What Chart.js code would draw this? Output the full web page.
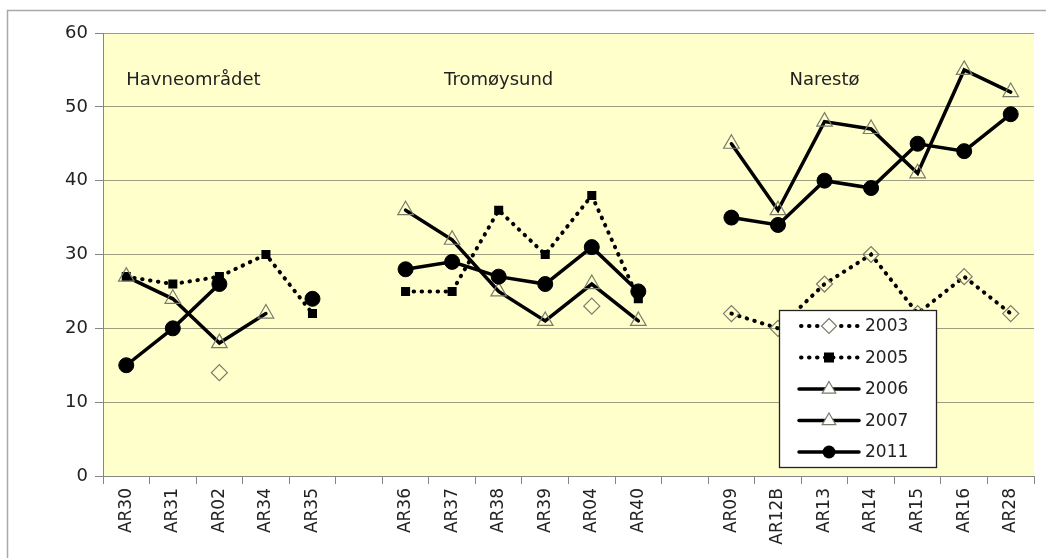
<!DOCTYPE html>
<html>
<head>
<meta charset="utf-8">
<script src="https://cdn.jsdelivr.net/npm/chart.js@4/dist/chart.umd.min.js"></script>
<style>
  html, body { margin: 0; padding: 0; background: #ffffff; }
  #wrap { width: 1046px; height: 558px; }
</style>
</head>
<body>
<div id="wrap"><canvas id="chart" width="1046" height="558"></canvas></div>
<script>
// stasjoner (tomme plasser skiller områdene)
const sites = ['AR30', 'AR31', 'AR02', 'AR34', 'AR35', ' ',
  'AR36', 'AR37', 'AR38', 'AR39', 'AR04', 'AR40', '  ',
  'AR09', 'AR12B', 'AR13', 'AR14', 'AR15', 'AR16', 'AR28'];

const v2003 = [null, null, 14, null, null, null,
  null, null, null, null, 23, null, null,
  22, 20, 26, 30, 22, 27, 22];
const v2005 = [27, 26, 27, 30, 22, null,
  25, 25, 36, 30, 38, 24, null,
  null, null, null, null, null, null, null];
const v2006 = [27, 24, 18, 22, null, null,
  36, 32, 25, 21, 26, 21, null,
  null, null, null, null, null, null, null];
const v2007 = [null, null, null, null, null, null,
  null, null, null, null, null, null, null,
  45, 36, 48, 47, 41, 55, 52];
const v2011 = [15, 20, 26, null, 24, null,
  28, 29, 27, 26, 31, 25, null,
  35, 34, 40, 39, 45, 44, 49];

const yTicks = [0, 10, 20, 30, 40, 50, 60];

// områdenavn: tekst, stasjon det ankres til, justering
const areaNames = ['Havneområdet', 'Tromøysund', 'Narestø'];
const areaAnchors = ['AR30', 'AR38', 'AR13'];
const areaAlign = ['left', 'center', 'center'];

const FONT = '"DejaVu Sans", Verdana, sans-serif';
const MARKER_EDGE = '#7b7b6b';

// --------------------------------------------------------------------------
// tegnehjelpere (for legenden)
// --------------------------------------------------------------------------
function drawMarker(ctx, style, x, y, r) {
  ctx.save();
  ctx.beginPath();
  if (style === 'circle') {
    ctx.arc(x, y, r, 0, Math.PI * 2);
    ctx.fillStyle = '#000';
    ctx.fill();
  } else if (style === 'rect') {
    ctx.fillStyle = '#000';
    ctx.fillRect(x - r, y - r, 2 * r, 2 * r);
  } else if (style === 'rectRot') {
    ctx.moveTo(x, y - r); ctx.lineTo(x + r, y); ctx.lineTo(x, y + r); ctx.lineTo(x - r, y);
    ctx.closePath();
    ctx.fillStyle = '#fff'; ctx.fill();
    ctx.strokeStyle = MARKER_EDGE; ctx.lineWidth = 1.2; ctx.stroke();
  } else if (style === 'triangle') {
    ctx.moveTo(x, y - r); ctx.lineTo(x + r * 0.9, y + r * 0.55); ctx.lineTo(x - r * 0.9, y + r * 0.55);
    ctx.closePath();
    ctx.fillStyle = '#fff'; ctx.fill();
    ctx.strokeStyle = MARKER_EDGE; ctx.lineWidth = 1.2; ctx.stroke();
  }
  ctx.restore();
}

const chartDecor = {
  id: 'chartDecor',
  beforeDraw(chart) {
    const { ctx, chartArea: a } = chart;
    ctx.save();
    ctx.fillStyle = '#ffffff';
    ctx.fillRect(0, 0, chart.width, chart.height);
    // ytre ramme
    ctx.strokeStyle = '#a9a9a9';
    ctx.lineWidth = 1.5;
    ctx.strokeRect(7.5, 10.5, 1200, 700);
    // plottområde
    ctx.fillStyle = '#ffffcc';
    ctx.fillRect(a.left, a.top, a.right - a.left, a.bottom - a.top);
    ctx.restore();
  },
  afterDraw(chart) {
    const { ctx } = chart;
    const xs = chart.scales.x, ys = chart.scales.y;

    // områdenavn
    ctx.save();
    ctx.font = '18px ' + FONT;
    ctx.fillStyle = '#222';
    ctx.textBaseline = 'middle';
    areaNames.forEach((name, i) => {
      ctx.textAlign = areaAlign[i];
      ctx.fillText(name, xs.getPixelForValue(sites.indexOf(areaAnchors[i])), ys.getPixelForValue(53.6));
    });
    ctx.restore();

    // legende
    const box = { x: 779, y: 310, w: 157, h: 157 };
    ctx.save();
    ctx.fillStyle = '#ffffff';
    ctx.fillRect(box.x, box.y, box.w, box.h);
    ctx.strokeStyle = '#222';
    ctx.lineWidth = 1.3;
    ctx.strokeRect(box.x + 0.5, box.y + 0.5, box.w, box.h);

    const order = ['2003', '2005', '2006', '2007', '2011'];
    order.forEach((lbl, i) => {
      const ds = chart.data.datasets.find(d => d.label === lbl);
      const y = box.y + 16 + i * 31.5;
      const x0 = box.x + 20, x1 = box.x + 80, xm = (x0 + x1) / 2;
      ctx.save();
      ctx.beginPath();
      ctx.strokeStyle = '#000';
      ctx.lineWidth = ds.borderWidth;
      ctx.lineCap = ds.borderCapStyle || 'butt';
      ctx.setLineDash(ds.borderDash || []);
      if (ds.borderDash && ds.borderDash.length) {
        ctx.moveTo(x0 + 2, y); ctx.lineTo(x1, y);
      } else {
        ctx.moveTo(x0, y); ctx.lineTo(x1, y);
      }
      ctx.stroke();
      ctx.restore();
      const r = ds.pointStyle === 'rect' ? 5 : (ds.pointStyle === 'circle' ? 6.5 : 7.5);
      drawMarker(ctx, ds.pointStyle, xm, y, r);

      ctx.font = '17px ' + FONT;
      ctx.fillStyle = '#222';
      ctx.textAlign = 'left';
      ctx.textBaseline = 'middle';
      ctx.fillText(lbl, box.x + 86, y + 1);
    });
    ctx.restore();
  }
};

const dotted = { borderDash: [0.5, 7.5], borderCapStyle: 'round', borderWidth: 4 };
const solid = { borderWidth: 3.5, borderCapStyle: 'round' };
const hollow = { pointBackgroundColor: 'rgba(0,0,0,0)', pointBorderColor: MARKER_EDGE, pointBorderWidth: 1.2 };

new Chart(document.getElementById('chart'), {
  type: 'line',
  data: {
    labels: sites,
    datasets: [
      { label: '2003', data: v2003, borderColor: '#000', ...dotted, ...hollow,
        pointStyle: 'rectRot', pointRadius: 8, order: 4 },
      { label: '2005', data: v2005, borderColor: '#000', ...dotted,
        pointStyle: 'rect', pointRadius: 6.4, pointBackgroundColor: '#000', pointBorderColor: '#000', pointBorderWidth: 0, order: 3 },
      { label: '2006', data: v2006, borderColor: '#000', ...solid, ...hollow,
        pointStyle: 'triangle', pointRadius: 9, order: 2 },
      { label: '2007', data: v2007, borderColor: '#000', ...solid, ...hollow,
        pointStyle: 'triangle', pointRadius: 9, order: 2 },
      { label: '2011', data: v2011, borderColor: '#000', ...solid,
        pointStyle: 'circle', pointRadius: 7.5, pointBackgroundColor: '#000', pointBorderColor: '#000', pointBorderWidth: 1, order: 0 }
    ]
  },
  options: {
    responsive: false,
    animation: false,
    spanGaps: false,
    layout: { padding: { top: 33, right: 12, left: 0, bottom: 0 } },
    plugins: { legend: { display: false }, tooltip: { enabled: false } },
    scales: {
      x: {
        offset: true,
        grid: { offset: true, drawOnChartArea: false, drawTicks: true, tickLength: 8, color: '#868686' },
        border: { display: true, color: '#868686', width: 1 },
        ticks: { minRotation: 90, maxRotation: 90, autoSkip: false, padding: 4, color: '#222', font: { family: FONT, size: 17 } },
        afterFit(scale) { scale.height = 82; }
      },
      y: {
        min: 0,
        max: 60,
        afterBuildTicks(scale) { scale.ticks = yTicks.map(v => ({ value: v })); },
        grid: { color: '#9d9d80', tickColor: '#868686', tickLength: 8, lineWidth: 1 },
        border: { display: true, color: '#868686', width: 1 },
        ticks: { padding: 7, color: '#222', font: { family: FONT, size: 18 } },
        afterFit(scale) { scale.width = 103; }
      }
    }
  },
  plugins: [chartDecor]
});
</script>
</body>
</html>
